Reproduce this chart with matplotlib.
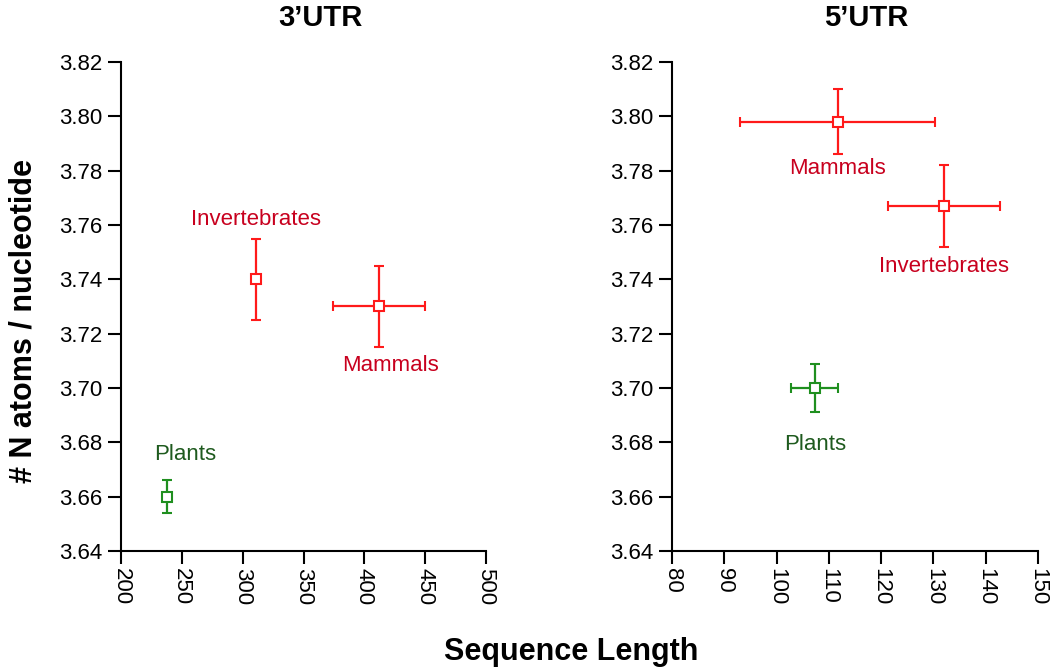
import matplotlib.pyplot as plt

plt.rcParams['font.family'] = ['Liberation Sans', 'DejaVu Sans']

groups = ['Invertebrates', 'Mammals', 'Plants']

# 3'UTR
utr3_len = [311, 412, 238]
utr3_len_err = [0, 38, 3]
utr3_n = [3.740, 3.730, 3.660]
utr3_n_err = [0.015, 0.015, 0.006]

# 5'UTR
utr5_len = [132.0, 111.7, 107.3]
utr5_len_err = [10.7, 18.6, 4.5]
utr5_n = [3.767, 3.798, 3.700]
utr5_n_err = [0.015, 0.012, 0.009]

mark_col = {'Invertebrates': '#ff1a1a', 'Mammals': '#ff1a1a', 'Plants': '#1f8f1f'}
text_col = {'Invertebrates': '#c8001e', 'Mammals': '#c8001e', 'Plants': '#1e5a1e'}

fig = plt.figure(figsize=(10.5, 6.7), dpi=100)
ax1 = fig.add_axes([0.1152, 0.1776, 0.3477, 0.7299])
ax2 = fig.add_axes([0.64, 0.1776, 0.3486, 0.7299])


def draw(ax, xs, xerr, ys, yerr, label_off, xticks):
    for i, g in enumerate(groups):
        ax.errorbar(xs[i], ys[i], xerr=xerr[i] if xerr[i] > 0 else None, yerr=yerr[i],
                    fmt='s', color=mark_col[g], mfc='white', mec=mark_col[g],
                    ms=7, mew=1.5, elinewidth=1.6, capsize=3.5, capthick=1.6, zorder=3)
        dx, dy = label_off[g]
        ax.annotate(g, (xs[i], ys[i]), xytext=(dx, dy), textcoords='offset pixels',
                    ha='center', va='center', fontsize=16, color=text_col[g])
    ax.set_xlim(xticks[0], xticks[-1])
    ax.set_ylim(3.64, 3.82)
    ax.set_xticks(xticks)
    ax.set_yticks([3.64, 3.66, 3.68, 3.70, 3.72, 3.74, 3.76, 3.78, 3.80, 3.82])
    ax.set_yticklabels(['%.2f' % v for v in ax.get_yticks()])
    ax.tick_params(axis='x', labelrotation=270, direction='out', length=9.5, width=1.5,
                   labelsize=16, pad=3)
    ax.tick_params(axis='y', direction='out', length=9.5, width=1.5, labelsize=16, pad=4)
    for s in ['top', 'right']:
        ax.spines[s].set_visible(False)
    for s in ['left', 'bottom']:
        ax.spines[s].set_linewidth(1.5)


draw(ax1, utr3_len, utr3_len_err, utr3_n, utr3_n_err,
     {'Invertebrates': (0, 60), 'Mammals': (12, -59), 'Plants': (18, 42)},
     [200, 250, 300, 350, 400, 450, 500])
draw(ax2, utr5_len, utr5_len_err, utr5_n, utr5_n_err,
     {'Invertebrates': (0, -61), 'Mammals': (0, -47), 'Plants': (0, -57)},
     [80, 90, 100, 110, 120, 130, 140, 150])

fig.text(0.3048, 0.973, '3\u2019UTR', ha='center', va='center', fontsize=21, fontweight='bold')
fig.text(0.8248, 0.973, '5\u2019UTR', ha='center', va='center', fontsize=21, fontweight='bold')
fig.text(0.022, 0.521, '# N atoms / nucleotide', rotation=90, ha='center', va='center',
         fontsize=22, fontweight='bold')
fig.text(0.5438, 0.027, 'Sequence Length', ha='center', va='center',
         fontsize=22, fontweight='bold')

fig.savefig('out.png', dpi=100)
